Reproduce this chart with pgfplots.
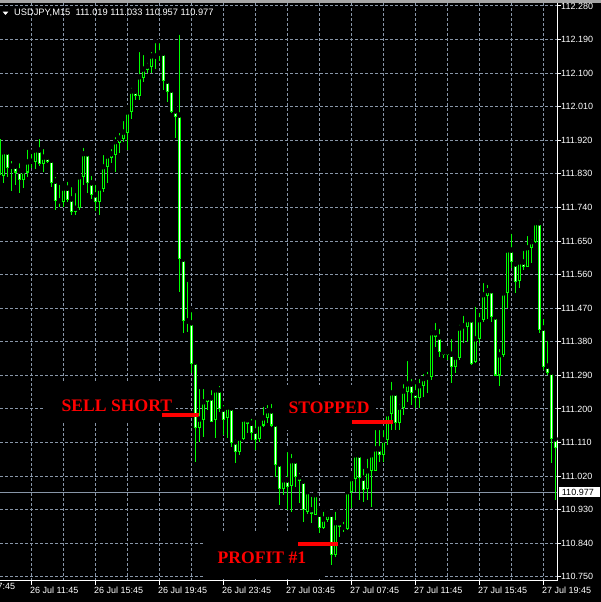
\documentclass[border=0pt]{standalone}
\usepackage{pgfplots}
\pgfplotsset{compat=1.18}
\usepackage{pgfplotstable}
\usepackage{fontspec}
\setmainfont{Liberation Sans}
\newfontfamily\annotfont{Liberation Serif}

\definecolor{gridc}{RGB}{136,150,168}
\definecolor{candle}{RGB}{0,255,0}
\definecolor{mtred}{RGB}{255,0,0}

% USDJPY M15 bars: index, open, high, low, close
\pgfplotstableread{
k o h l c
-1 111.921 111.929 111.822 111.827
0 111.825 111.900 111.806 111.889
1 111.889 111.894 111.822 111.846
2 111.849 111.870 111.784 111.851
3 111.851 111.862 111.800 111.835
4 111.838 111.864 111.779 111.816
5 111.816 111.846 111.792 111.838
6 111.835 111.900 111.822 111.862
7 111.862 111.889 111.846 111.864
8 111.862 111.900 111.843 111.894
9 111.894 111.929 111.851 111.859
10 111.859 111.902 111.835 111.875
11 111.875 111.878 111.859 111.864
12 111.867 111.870 111.795 111.808
13 111.811 111.827 111.733 111.758
14 111.758 111.806 111.741 111.755
15 111.755 111.803 111.741 111.792
16 111.792 111.814 111.755 111.760
17 111.763 111.800 111.720 111.730
18 111.730 111.784 111.720 111.738
19 111.741 111.827 111.733 111.822
20 111.822 111.905 111.800 111.884
21 111.884 111.886 111.779 111.806
22 111.806 111.830 111.763 111.774
23 111.774 111.806 111.730 111.755
24 111.755 111.800 111.720 111.792
25 111.790 111.886 111.782 111.849
26 111.849 111.886 111.806 111.878
27 111.875 111.902 111.859 111.884
28 111.881 111.934 111.835 111.916
29 111.913 111.945 111.886 111.926
30 111.926 111.977 111.916 111.942
31 111.940 112.009 111.894 111.996
32 111.996 112.066 111.977 112.052
33 112.052 112.063 112.028 112.039
34 112.039 112.162 112.028 112.090
35 112.087 112.154 112.077 112.111
36 112.111 112.133 112.100 112.119
37 112.119 112.162 112.100 112.146
38 112.143 112.186 112.111 112.146
39 112.149 112.186 112.133 112.154
40 112.154 112.156 112.055 112.079
41 112.079 112.090 112.023 112.050
42 112.055 112.066 111.993 111.996
43 111.999 112.009 111.926 111.985
44 111.988 112.208 111.514 111.602
45 111.602 111.605 111.404 111.436
46 111.436 111.546 111.406 111.433
47 111.431 111.465 111.297 111.323
48 111.326 111.331 111.058 111.149
49 111.149 111.259 111.112 111.173
50 111.173 111.259 111.125 111.219
51 111.219 111.235 111.197 111.230
52 111.230 111.256 111.165 111.167
53 111.171 111.259 111.122 111.251
54 111.251 111.267 111.192 111.200
55 111.200 111.216 111.130 111.173
56 111.176 111.216 111.122 111.205
57 111.203 111.211 111.098 111.109
58 111.112 111.125 111.056 111.085
59 111.085 111.130 111.077 111.122
60 111.120 111.176 111.117 111.173
61 111.171 111.179 111.136 111.160
62 111.162 111.179 111.117 111.138
63 111.141 111.176 111.090 111.117
64 111.120 111.171 111.112 111.160
65 111.157 111.211 111.152 111.176
66 111.176 111.216 111.162 111.195
67 111.195 111.219 111.152 111.157
68 111.160 111.162 111.018 111.050
69 111.053 111.056 110.943 110.986
70 110.986 111.018 110.970 111.010
71 111.010 111.090 110.930 110.991
72 110.994 111.085 110.924 111.061
73 111.061 111.064 110.991 111.018
74 111.018 111.034 110.948 111.007
75 111.007 111.010 110.897 110.930
76 110.924 110.988 110.918 110.978
77 110.930 110.970 110.895 110.921
78 110.918 110.978 110.918 110.970
79 110.918 110.930 110.868 110.881
80 110.881 110.930 110.879 110.905
81 110.905 110.930 110.897 110.918
82 110.918 110.921 110.782 110.809
83 110.809 110.930 110.804 110.895
84 110.895 110.897 110.857 110.884
85 110.884 110.903 110.871 110.879
86 110.879 110.983 110.876 110.978
87 110.978 111.023 110.935 111.013
88 111.013 111.090 110.978 111.077
89 111.077 111.082 110.956 111.015
90 111.015 111.045 110.951 110.983
91 110.986 111.072 110.956 111.034
92 111.034 111.082 110.938 111.077
93 111.034 111.149 111.034 111.093
94 111.093 111.149 111.058 111.077
95 111.077 111.149 111.058 111.117
96 111.117 111.200 111.104 111.187
97 111.187 111.278 111.144 111.243
98 111.243 111.245 111.144 111.165
99 111.165 111.219 111.144 111.205
100 111.205 111.272 111.184 111.248
101 111.248 111.334 111.219 111.267
102 111.267 111.286 111.211 111.243
103 111.243 111.272 111.203 111.232
104 111.232 111.286 111.203 111.262
105 111.262 111.299 111.232 111.281
106 111.281 111.305 111.243 111.286
107 111.286 111.417 111.278 111.404
108 111.404 111.436 111.366 111.393
109 111.393 111.420 111.339 111.353
110 111.353 111.361 111.337 111.347
111 111.347 111.363 111.331 111.353
112 111.347 111.393 111.270 111.313
113 111.313 111.350 111.297 111.339
114 111.339 111.431 111.331 111.417
115 111.417 111.455 111.377 111.423
116 111.420 111.447 111.380 111.439
117 111.439 111.444 111.318 111.323
118 111.326 111.479 111.323 111.388
119 111.388 111.463 111.377 111.439
120 111.439 111.543 111.433 111.506
121 111.503 111.538 111.441 111.517
122 111.517 111.525 111.433 111.447
123 111.447 111.452 111.289 111.291
124 111.291 111.366 111.262 111.345
125 111.345 111.514 111.339 111.511
126 111.511 111.634 111.471 111.626
127 111.626 111.675 111.578 111.594
128 111.589 111.602 111.511 111.541
129 111.543 111.594 111.525 111.594
130 111.594 111.629 111.573 111.583
131 111.583 111.669 111.581 111.632
132 111.632 111.661 111.591 111.648
133 111.648 111.701 111.645 111.699
134 111.699 111.712 111.404 111.412
135 111.417 111.447 111.305 111.313
136 111.315 111.388 111.291 111.297
137 111.299 111.305 111.056 111.120
138 111.120 111.122 110.956 111.098
}\candles

\begin{document}
\begin{tikzpicture}[x=1bp,y=1bp]
% terminal background
\fill[black] (0,0) rectangle (601,602);
\fill[gray!70] (0,599.3) rectangle (601,602);

\begin{axis}[
  at={(0bp,21bp)}, anchor=south west,
  scale only axis, width=557bp, height=578bp,
  xmin=-0.825, xmax=138.425,
  ymin=110.739, ymax=112.288,
  axis x line*=bottom, axis y line*=right,
  axis line style={white, line width=1bp},
  tick align=outside,
  major tick length=4bp, minor tick length=0pt,
  tick style={white, line width=1bp},
  /pgf/number format/assume math mode=true,
  xtick={7,23,39,55,71,87,103,119,135},
  xticklabels={26 Jul 11:45,26 Jul 15:45,26 Jul 19:45,26 Jul 23:45,27 Jul 03:45,27 Jul 07:45,27 Jul 11:45,27 Jul 15:45,27 Jul 19:45},
  minor xtick={15,31,47,63,79,95,111,127},
  ytick={110.75,110.84,110.93,111.02,111.11,111.2,111.29,111.38,111.47,111.56,111.65,111.74,111.83,111.92,112.01,112.1,112.19,112.28},
  yticklabels={110.750,110.840,110.930,111.020,111.110,111.200,111.290,111.380,111.470,111.560,111.650,111.740,111.830,111.920,112.010,112.100,112.190,112.280},
  xticklabel style={font=\fontsize{9bp}{10bp}\selectfont, text=white, anchor=north west, inner sep=0pt, xshift=-1.5bp, yshift=-1.5bp},
  yticklabel style={font=\fontsize{9bp}{10bp}\selectfont, text=white, anchor=west, inner sep=0pt},
  grid=both,
  major grid style={gridc, line width=1bp, dash pattern=on 3bp off 2bp},
  minor grid style={gridc, line width=1bp, dash pattern=on 3bp off 2bp},
]
% label backgrounds hide the grid behind the annotations
\fill[black] (axis cs:10.4,111.270) rectangle (axis cs:43.2,111.162);
\fill[black] (axis cs:66.7,111.265) rectangle (axis cs:93.2,111.144);
\fill[black] (axis cs:50.4,110.868) rectangle (axis cs:79.9,110.745);

% bid line
\addplot[gridc, line width=1bp, forget plot] coordinates {(-1,110.977) (139,110.977)};

% wicks
\addplot[only marks, mark=none, forget plot,
  error bars/.cd, y dir=both, y explicit, error mark=none,
  error bar style={draw=candle, line width=1bp, solid}]
  table[x=k, y=h, y error plus expr=0, y error minus expr={\thisrow{h}-\thisrow{l}}] {\candles};
% bodies
\addplot[only marks, mark=none, forget plot,
  error bars/.cd, y dir=both, y explicit, error mark=none,
  error bar style={draw=candle, line width=3bp, solid}]
  table[x=k, y expr={max(\thisrow{o},\thisrow{c})+0.0013}, y error plus expr=0,
        y error minus expr={abs(\thisrow{o}-\thisrow{c})+0.0026}] {\candles};
% bearish bodies: white inside
\addplot[only marks, mark=none, forget plot,
  error bars/.cd, y dir=both, y explicit, error mark=none,
  error bar style={draw=white, line width=1bp, solid}]
  table[x=k, y expr={max(\thisrow{o},\thisrow{c})-0.0014}, y error plus expr=0,
        y error minus expr={(\thisrow{o}>\thisrow{c})*max(0,abs(\thisrow{o}-\thisrow{c})-0.0028)}] {\candles};
% bullish bodies: black inside
\addplot[only marks, mark=none, forget plot,
  error bars/.cd, y dir=both, y explicit, error mark=none,
  error bar style={draw=black, line width=1bp, solid}]
  table[x=k, y expr={max(\thisrow{o},\thisrow{c})-0.0014}, y error plus expr=0,
        y error minus expr={(\thisrow{o}<\thisrow{c})*max(0,abs(\thisrow{o}-\thisrow{c})-0.0028)}] {\candles};

% trade levels
\addplot[mtred, line width=4bp, forget plot] coordinates {(39.7,111.183) (49.0,111.183)};
\addplot[mtred, line width=4bp, forget plot] coordinates {(87.25,111.165) (97.5,111.165)};
\addplot[mtred, line width=4bp, forget plot] coordinates {(73.75,110.837) (83.75,110.837)};

\node[anchor=base west, inner sep=0pt, text=mtred, font=\annotfont\bfseries\fontsize{17.6bp}{18bp}\selectfont] at (axis cs:14.55,111.193) {SELL SHORT};
\node[anchor=base west, inner sep=0pt, text=mtred, font=\annotfont\bfseries\fontsize{17.6bp}{18bp}\selectfont] at (axis cs:71.3,111.187) {STOPPED};
\node[anchor=base west, inner sep=0pt, text=mtred, font=\annotfont\bfseries\fontsize{17.6bp}{18bp}\selectfont] at (axis cs:53.55,110.785) {PROFIT \#1};
\end{axis}

% partially visible first time label
\node[anchor=north west, inner sep=0pt, text=white, font=\fontsize{9bp}{10bp}\selectfont] at (-34.2,19.5) {26 Jul 07:45};

% symbol header
\fill[white] (2.7,590.3) -- (8.3,590.3) -- (5.5,587) -- cycle;
\node[anchor=base west, inner sep=0pt, text=white, font=\fontsize{9.3bp}{10bp}\selectfont] at (14,586) {USDJPY,M15 \ 111.019 111.033 110.957 110.977};

% current bid label
\fill[white] (559.3,105.3) rectangle (600,114.7);
\node[anchor=west, inner sep=0pt, text=black, font=\fontsize{9bp}{10bp}\selectfont] at (561.7,109.8) {110.977};

\pgfresetboundingbox
\path[use as bounding box] (0,0) rectangle (601,602);
\end{tikzpicture}
\end{document}
